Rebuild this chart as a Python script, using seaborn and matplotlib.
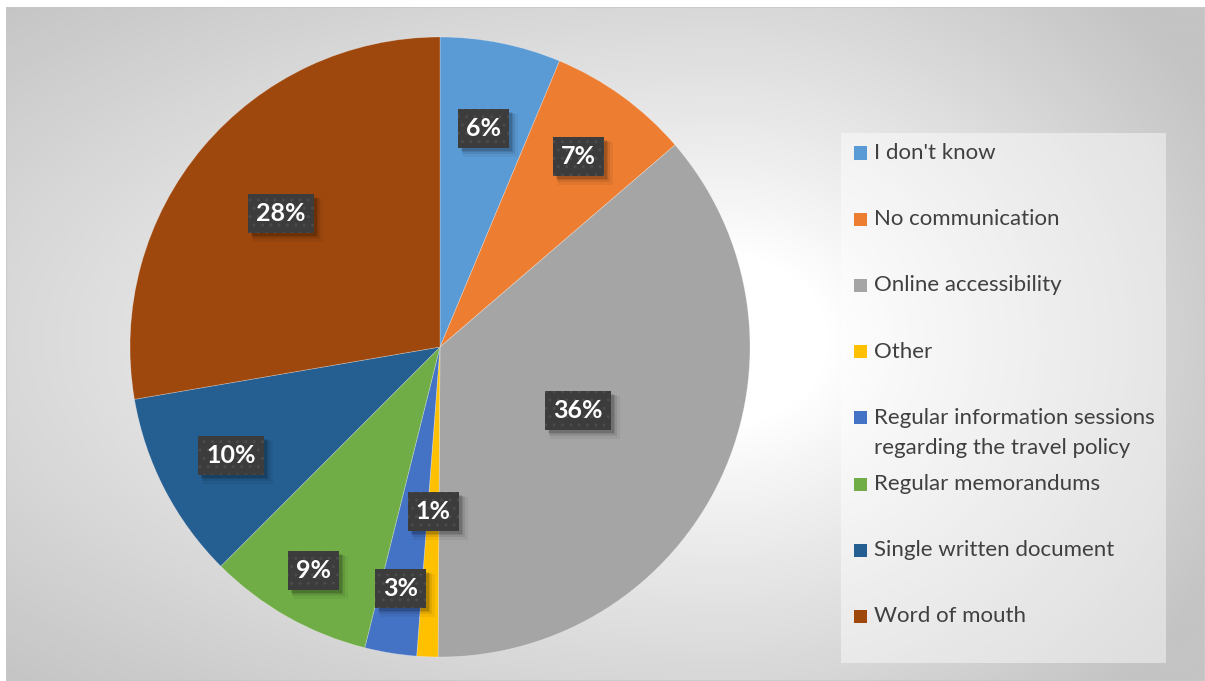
import numpy as np
import matplotlib
matplotlib.use("Agg")
import matplotlib.pyplot as plt
from matplotlib.patches import Rectangle
import seaborn as sns

# Survey answers: how the travel policy is communicated (share of respondents, %)
categories = [
    "I don't know",
    "No communication",
    "Online accessibility",
    "Other",
    "Regular information sessions\nregarding the travel policy",
    "Regular memorandums",
    "Single written document",
    "Word of mouth",
]
shares = [6.3, 7.4, 36.4, 1.1, 2.7, 8.6, 9.8, 27.7]

colors = sns.color_palette(["#5B9BD5", "#ED7D31", "#A5A5A5", "#FFC000",
                            "#4472C4", "#70AD47", "#255E91", "#9E480E"])

# radial position of each data label, as a fraction of the pie radius
label_radius = [0.72, 0.76, 0.49, 0.53, 0.79, 0.83, 0.76, 0.67]

sns.set_theme(style="white")
plt.rcParams["font.family"] = ["Lato", "DejaVu Sans"]
plt.rcParams["hatch.linewidth"] = 1.0

W, H = 1205, 681
fig = plt.figure(figsize=(W / 100, H / 100), dpi=100)
fig.patch.set_facecolor("white")


def fx(px):
    return px / W


def fy(py):
    return 1 - py / H


# chart-area background: soft radial fill, white in the middle, grey at the rim
bg = fig.add_axes([fx(6), 0, 1 - fx(6), fy(7)])
bg.set_axis_off()
xs = np.linspace(6, W, 600)
ys = np.linspace(7, H, 340)
X, Y = np.meshgrid(xs, ys)
cx, cy = 730, 340
rx = np.where(X > cx, 560, 1050)
t = np.sqrt(((X - cx) / rx) ** 2 + ((Y - cy) / 480) ** 2)
ramp = np.clip((t - 0.18) / 0.82, 0, 1) ** 0.9
grey = 255 - (255 - 196) * ramp
img = np.dstack([grey, grey, grey]) / 255
bg.imshow(img, extent=[0, 1, 0, 1], aspect="auto", origin="upper")
bg.set_xlim(0, 1)
bg.set_ylim(0, 1)
bg.add_patch(Rectangle((0, 0), 1, 1, transform=bg.transAxes, fill=False,
                       edgecolor="#c8c8c8", linewidth=1.2))

# pie
ax = fig.add_axes([fx(440 - 310), 1 - (347 + 310) / H, 620 / W, 620 / H])
ax.set_axis_off()
wedges, _ = ax.pie(shares, colors=colors, startangle=90, counterclock=False,
                   radius=1.0, wedgeprops=dict(linewidth=0.5, edgecolor="#ffffff55"))
ax.set_xlim(-1, 1)
ax.set_ylim(-1, 1)

labels = []
for w, v, frac in zip(wedges, shares, label_radius):
    mid = np.deg2rad((w.theta1 + w.theta2) / 2)
    x, y = frac * np.cos(mid), frac * np.sin(mid)
    txt = ax.text(x, y, f"{v:.0f}%", ha="center", va="center", color="white",
                  fontsize=18, fontweight="bold", zorder=6,
                  bbox=dict(boxstyle="square,pad=0.32", facecolor="#3c3c3c",
                            edgecolor="#4b4b4b", linewidth=0, hatch=".."))
    labels.append(txt)

# soft drop shadows under the label boxes (drawn above the wedges)
fig.canvas.draw()
renderer = fig.canvas.get_renderer()
inv = ax.transData.inverted()
for txt in labels:
    ext = txt.get_bbox_patch().get_window_extent(renderer)
    for off, grow, a in ((7, 2, 0.05), (5, 1, 0.08), (4, 0, 0.10), (3, 0, 0.12)):
        (x0, y0), (x1, y1) = inv.transform([(ext.x0 + off - grow, ext.y0 - off - grow),
                                            (ext.x1 + off + grow, ext.y1 - off + grow)])
        ax.add_patch(Rectangle((x0, y0), x1 - x0, y1 - y0, facecolor="black",
                               alpha=a, edgecolor="none", zorder=4))

# legend panel
lx0, ly0, lx1, ly1 = 841, 133, 1166, 663
fig.patches.append(Rectangle((fx(lx0), fy(ly1)), fx(lx1) - fx(lx0), fy(ly0) - fy(ly1),
                             transform=fig.transFigure, facecolor="white", alpha=0.45,
                             edgecolor="none", zorder=2))
slot0, step, line_gap = 153, 66.2, 30
for i, (name, col) in enumerate(zip(categories, colors)):
    yc = slot0 + i * step
    fig.patches.append(Rectangle((fx(854), fy(yc + 6.5)), 13 / W, 13 / H,
                                 transform=fig.transFigure, facecolor=col,
                                 edgecolor="none", zorder=3))
    for j, line in enumerate(name.split("\n")):
        fig.text(fx(874), fy(yc + j * line_gap), line, ha="left", va="center",
                 fontsize=16, color="#404040", zorder=4)

fig.savefig("out.png", dpi=100)
